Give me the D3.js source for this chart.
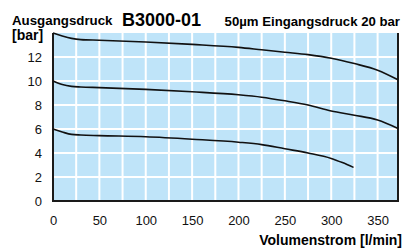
<!DOCTYPE html>
<html>
<head>
<meta charset="utf-8">
<script src="https://cdn.jsdelivr.net/npm/d3@7"></script>
<style>
  body { margin: 0; background: #fff; }
  text { font-family: "Liberation Sans", Arial, sans-serif; }
</style>
</head>
<body>
<div id="chart"></div>
<script>
// flow in l/min, outlet pressure in bar
var flow20 = [0, 10, 20, 30, 50, 100, 150, 200, 225, 250, 275, 300, 325, 350, 372];
var curve14 = [14.0, 13.75, 13.55, 13.45, 13.4, 13.25, 13.05, 12.8, 12.6, 12.4, 12.2, 11.9, 11.45, 10.9, 10.1];
var curve10 = [10.0, 9.7, 9.55, 9.5, 9.45, 9.3, 9.1, 8.85, 8.65, 8.35, 8.0, 7.5, 7.15, 6.75, 6.05];
var flow6 = [0, 10, 20, 30, 50, 100, 150, 200, 225, 250, 275, 300, 312, 324];
var curve6 = [6.0, 5.75, 5.55, 5.5, 5.45, 5.35, 5.15, 4.9, 4.7, 4.35, 4.0, 3.55, 3.2, 2.8];

var xTicks = [0, 50, 100, 150, 200, 250, 300, 350];
var yTicks = [0, 2, 4, 6, 8, 10, 12];

var width = 403;
var height = 248;

var x = d3.scaleLinear().domain([0, 372]).range([53, 398]);
var y = d3.scaleLinear().domain([0, 14]).range([201, 33]);

var svg = d3.select("#chart")
    .append("svg")
    .attr("width", width)
    .attr("height", height);

//blue plot area
svg.append("rect")
    .attr("x", x(0))
    .attr("y", y(14))
    .attr("width", x(372) - x(0))
    .attr("height", y(0) - y(14))
    .attr("fill", "#bfe4f9");

//white grid, every 25 l/min and every 2 bar
svg.selectAll(".vgrid")
    .data(d3.range(25, 372, 25))
    .enter().append("line")
    .attr("x1", d => x(d)).attr("x2", d => x(d))
    .attr("y1", y(14)).attr("y2", y(0))
    .attr("stroke", "#fff")
    .attr("stroke-width", 2);

svg.selectAll(".hgrid")
    .data([2, 4, 6, 8, 10, 12])
    .enter().append("line")
    .attr("x1", x(0)).attr("x2", x(372))
    .attr("y1", d => y(d)).attr("y2", d => y(d))
    .attr("stroke", "#fff")
    .attr("stroke-width", 2);

//frame: left, bottom, right dark
svg.append("path")
    .attr("d", "M" + x(0) + "," + y(14) + "V" + y(0) + "H" + x(372) + "V" + y(14))
    .attr("fill", "none")
    .attr("stroke", "#1a1a1a")
    .attr("stroke-width", 2);

//axes, only labels
var xAxis = svg.append("g")
    .attr("transform", "translate(0," + y(0) + ")")
    .call(d3.axisBottom(x).tickValues(xTicks).tickSize(0).tickPadding(15));
xAxis.select(".domain").remove();
xAxis.selectAll("text")
    .attr("font-size", 13)
    .attr("font-family", "Liberation Sans, Arial, sans-serif")
    .attr("fill", "#111");

var yAxis = svg.append("g")
    .attr("transform", "translate(" + x(0) + ",0)")
    .call(d3.axisLeft(y).tickValues(yTicks).tickSize(0).tickPadding(11));
yAxis.select(".domain").remove();
yAxis.selectAll("text")
    .attr("font-size", 13)
    .attr("font-family", "Liberation Sans, Arial, sans-serif")
    .attr("fill", "#111");

//curves
var line = d3.line()
    .x(d => x(d[0]))
    .y(d => y(d[1]))
    .curve(d3.curveMonotoneX);

var curves = [
    d3.zip(flow20, curve14),
    d3.zip(flow20, curve10),
    d3.zip(flow6, curve6)
];

svg.selectAll(".curve")
    .data(curves)
    .enter().append("path")
    .attr("class", "curve")
    .attr("d", line)
    .attr("fill", "none")
    .attr("stroke", "#111")
    .attr("stroke-width", 1.6);

//texts
svg.append("text")
    .attr("x", 12).attr("y", 25)
    .attr("font-size", 13.3).attr("font-weight", "bold")
    .text("Ausgangsdruck");

svg.append("text")
    .attr("x", 122).attr("y", 26)
    .attr("font-size", 18).attr("font-weight", "bold")
    .text("B3000-01");

svg.append("text")
    .attr("x", 400).attr("y", 26)
    .attr("text-anchor", "end")
    .attr("font-size", 13.2).attr("font-weight", "bold")
    .text("50µm Eingangsdruck 20 bar");

svg.append("text")
    .attr("x", 12).attr("y", 40)
    .attr("font-size", 14).attr("font-weight", "bold")
    .text("[bar]");

svg.append("text")
    .attr("x", 402).attr("y", 245)
    .attr("text-anchor", "end")
    .attr("font-size", 14).attr("font-weight", "bold")
    .text("Volumenstrom [l/min]");
</script>
</body>
</html>
